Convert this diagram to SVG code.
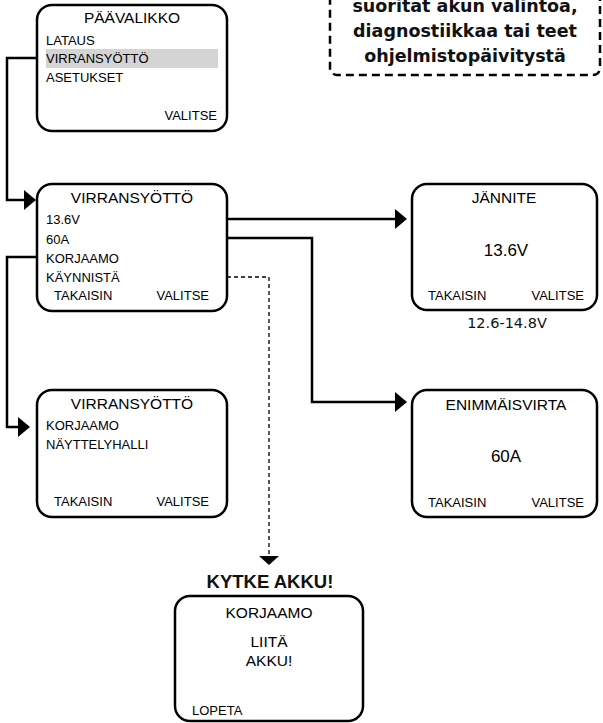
<svg xmlns="http://www.w3.org/2000/svg" width="603" height="723" viewBox="0 0 603 723">
<style>
.box{fill:#fff;stroke:#000;stroke-width:2.5}
.t{font-family:"Liberation Sans",Arial,sans-serif;font-size:13px;fill:#000}
.ti{font-family:"Liberation Sans",Arial,sans-serif;font-size:15.5px;fill:#000;text-anchor:middle}
.big{font-family:"Liberation Sans",Arial,sans-serif;font-size:17px;fill:#000;text-anchor:middle}
.r{text-anchor:end}
.c{text-anchor:middle}
.conn{fill:none;stroke:#000;stroke-width:2.5}
.dash{fill:none;stroke:#000;stroke-width:1.3;stroke-dasharray:4 3}
.callout{font-family:"DejaVu Sans",sans-serif;font-weight:bold;font-size:17.5px;fill:#111;text-anchor:middle}
</style>
<defs>
<marker id="ah" markerUnits="userSpaceOnUse" markerWidth="12" markerHeight="20" refX="0" refY="10" orient="auto"><path d="M0,0 L12,10 L0,20 Z" fill="#000"/></marker>
<marker id="ahd" markerUnits="userSpaceOnUse" markerWidth="9" markerHeight="20" refX="0" refY="10" orient="auto"><path d="M0,0 L9,10 L0,20 Z" fill="#000"/></marker>
</defs>
<g id="connectors">
<path class="conn" d="M37,58 H7 V200 H24" marker-end="url(#ah)"/>
<path class="conn" d="M227,219 H395" marker-end="url(#ah)"/>
<path class="conn" d="M227,238 H312 V402 H395" marker-end="url(#ah)"/>
<path class="conn" d="M37,257 H7 V427 H18" marker-end="url(#ah)"/>
<path class="dash" d="M227,277 H269 V556" marker-end="url(#ahd)"/>
</g>
<g id="callout">
<rect x="330" y="-20" width="270" height="95" rx="7" fill="none" stroke="#000" stroke-width="2.5" stroke-dasharray="8 5"/>
<text class="callout" x="465" y="12">suoritat akun valintoa,</text>
<text class="callout" x="465" y="37">diagnostiikkaa tai teet</text>
<text class="callout" x="465" y="62">ohjelmistopäivitystä</text>
</g>
<g id="paavalikko">
<rect class="box" x="37" y="5" width="190" height="126" rx="15"/>
<rect x="46" y="49" width="172" height="19" fill="#d4d4d4"/>
<text class="ti" x="132" y="23">PÄÄVALIKKO</text>
<text class="t" x="46" y="45">LATAUS</text>
<text class="t" x="46" y="63">VIRRANSYÖTTÖ</text>
<text class="t" x="46" y="82">ASETUKSET</text>
<text class="t r" x="217" y="120">VALITSE</text>
</g>
<g id="virransyotto1">
<rect class="box" x="37" y="184" width="190" height="127" rx="15"/>
<text class="ti" x="132" y="203">VIRRANSYÖTTÖ</text>
<text class="t" x="46" y="224">13.6V</text>
<text class="t" x="46" y="244">60A</text>
<text class="t" x="46" y="263">KORJAAMO</text>
<text class="t" x="46" y="282">KÄYNNISTÄ</text>
<text class="t" x="54" y="300">TAKAISIN</text>
<text class="t r" x="209" y="300">VALITSE</text>
</g>
<g id="jannite">
<rect class="box" x="412" y="184" width="185" height="126" rx="15"/>
<text class="ti" x="504" y="203">JÄNNITE</text>
<text class="big" x="506" y="256">13.6V</text>
<text class="t" x="428" y="300">TAKAISIN</text>
<text class="t r" x="584" y="300">VALITSE</text>
<text x="507" y="328" font-family="DejaVu Sans,sans-serif" font-size="14.5" text-anchor="middle" fill="#111">12.6-14.8V</text>
</g>
<g id="virransyotto2">
<rect class="box" x="37" y="390" width="190" height="127" rx="15"/>
<text class="ti" x="132" y="409">VIRRANSYÖTTÖ</text>
<text class="t" x="46" y="430">KORJAAMO</text>
<text class="t" x="46" y="449">NÄYTTELYHALLI</text>
<text class="t" x="54" y="506">TAKAISIN</text>
<text class="t r" x="209" y="506">VALITSE</text>
</g>
<g id="enimmaisvirta">
<rect class="box" x="412" y="390" width="185" height="127" rx="15"/>
<text class="ti" x="506" y="410">ENIMMÄISVIRTA</text>
<text class="big" x="506" y="462">60A</text>
<text class="t" x="428" y="507">TAKAISIN</text>
<text class="t r" x="584" y="507">VALITSE</text>
</g>
<g id="korjaamo">
<text x="270" y="588" font-family="Liberation Sans,Arial,sans-serif" font-weight="bold" font-size="18.5" text-anchor="middle" fill="#111">KYTKE AKKU!</text>
<rect class="box" x="175" y="596" width="188" height="125" rx="15"/>
<text class="ti" x="269" y="618">KORJAAMO</text>
<text class="ti" x="269" y="647">LIITÄ</text>
<text class="ti" x="269" y="666">AKKU!</text>
<text class="t" x="192" y="715">LOPETA</text>
</g>
</svg>
